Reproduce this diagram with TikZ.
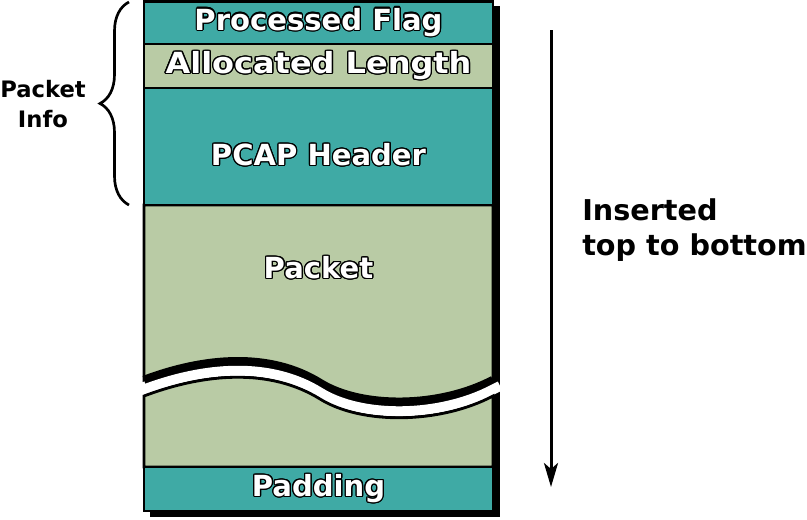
\documentclass[tikz,border=0pt]{standalone}
\usepackage{fontspec}
\setmainfont{DejaVu Sans}
\usepackage{contour}
\usetikzlibrary{arrows.meta,decorations.pathreplacing}
\contourlength{0.9pt}
\definecolor{tealbox}{HTML}{3FAAA5}
\definecolor{pktgreen}{HTML}{B9CBA5}

\begin{document}
\begin{tikzpicture}[x=0.75pt,y=-0.75pt,
  field/.style={draw, line width=2.1pt, inner sep=0pt, minimum width=349*0.75pt,
    text=white, font=\fontsize{21.8}{24}\selectfont\bfseries},
  lbl/.style={inner sep=0pt, text=white, font=\fontsize{21.8}{24}\selectfont\bfseries},
  side/.style={inner sep=0pt, font=\bfseries}]

\useasboundingbox (0,0) rectangle (807,519);

% --- Shadow ---
\fill[black] (150,6) rectangle (500,517);

% --- Packet body, cut by the wave ---
\filldraw[fill=pktgreen, line width=2.1pt] (144,205) -- (144,380)
  .. controls (205,357) and (270,352) .. (320,383)
  .. controls (362,409) and (440,408) .. (493,380) -- (493,205) -- cycle;
\draw[line width=8.5*0.75pt] (144,380)
  .. controls (205,357) and (270,352) .. (320,383)
  .. controls (362,409) and (440,408) .. (493,380);
\draw[white, line width=10*0.75pt] (144,389.5)
  .. controls (205,366.5) and (270,361.5) .. (320,392.5)
  .. controls (362,418.5) and (440,417.5) .. (493,389.5) -- (500,386);
\filldraw[fill=pktgreen, line width=2.1pt] (144,396)
  .. controls (205,373) and (270,368) .. (320,399)
  .. controls (362,425) and (440,424) .. (493,396) -- (493,467) -- (144,467) -- cycle;

% Rows
\node[field, fill=tealbox, minimum height=42.5*0.75pt] (flag) at (318.5,22.75) {\contour{black}{Processed Flag}};
\node[field, fill=pktgreen, minimum height=44*0.75pt] (alloc) at (318.5,66) {\scalebox{1.1}[1]{\contour{black}{Allocated Length}}};
\node[field, fill=tealbox, minimum height=117*0.75pt] (pcap) at (318.5,146.5) {};
\node[lbl] (pcaplbl) at (318.5,155) {\contour{black}{PCAP Header}};
\node[lbl] (pktlbl) at (318.5,268) {\contour{black}{Packet}};
\node[field, fill=tealbox, minimum height=44*0.75pt] (padding) at (318.5,489) {\contour{black}{Padding}};

% --- Packet info brace ---
\coordinate (bracebot) at (129,205);
\coordinate (bracetop) at (129,2);
\draw[line width=2pt, decorate, decoration={brace, amplitude=29*0.75pt}] (bracebot) -- (bracetop);
\node[side, align=center, font=\fontsize{17}{22.5}\selectfont\bfseries] (info) at (43,104) {Packet\\Info};

% --- Insertion arrow ---
\coordinate (arrtop) at (551,30);
\coordinate (arrbot) at (551,487);
\draw[-{Stealth[length=24*0.75pt, width=14*0.75pt, inset=6*0.75pt]}, line width=3*0.75pt] (arrtop) -- (arrbot);
\node[side, anchor=west, align=left, font=\fontsize{21.5}{26.25}\selectfont\bfseries] (order) at (582,230.3) {Inserted\\top to bottom};

\end{tikzpicture}
\end{document}
